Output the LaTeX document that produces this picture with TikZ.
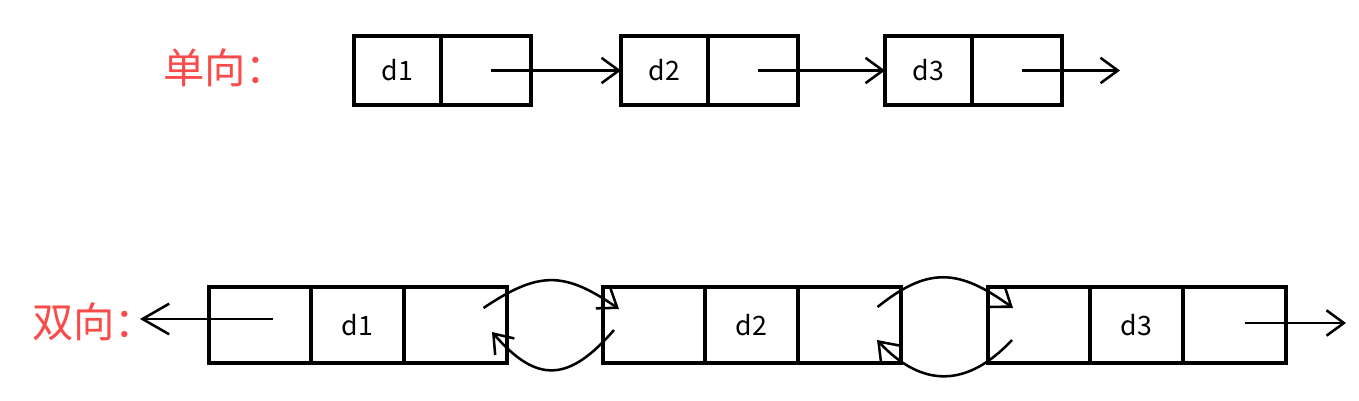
\documentclass[tikz,border=0pt]{standalone}
\usepackage{fontspec}
\setmainfont{Noto Sans CJK SC}
\usetikzlibrary{calc,arrows.meta,positioning}
\definecolor{labelColor}{RGB}{250,75,75}
\newcommand{\cellfont}{\fontsize{20}{24}\selectfont}
\newcommand{\labelfont}{\fontsize{31}{34}\selectfont}

\begin{document}
\begin{tikzpicture}[x=0.75pt, y=-0.75pt,
    cell/.style={draw, line width=2.4pt, outer sep=0pt, inner sep=0pt, font=\cellfont},
    upcell/.style={cell, minimum height=51.75pt},
    downcell/.style={cell, minimum height=57pt},
    tag/.style={font=\labelfont, text=labelColor, inner sep=0pt, anchor=west},
    arr/.style={-{Straight Barb[length=13pt, width=19pt]}, line width=1.9pt},
    bigarr/.style={-{Straight Barb[length=20pt, width=23pt]}, line width=1.9pt}
  ]
  \useasboundingbox (0,0) rectangle (1359,400);

  % singly linked
  \node[tag] (single) at (163,68) {单向：};
  \node[upcell, minimum width=65.25pt, anchor=west] (s1) at (354,70.5) {d1};
  \node[upcell, minimum width=67.5pt, right=0pt of s1] (s1p) {};
  \node[upcell, minimum width=65.25pt, anchor=west] (s2) at (621,70.5) {d2};
  \node[upcell, minimum width=67.5pt, right=0pt of s2] (s2p) {};
  \node[upcell, minimum width=65.25pt, anchor=west] (s3) at (885,70.5) {d3};
  \node[upcell, minimum width=67.5pt, right=0pt of s3] (s3p) {};

  \coordinate (s1out) at ($(s1p.center)+(5,0)$);
  \coordinate (s2out) at ($(s2p.center)+(5,0)$);
  \coordinate (s3out) at ($(s3p.center)+(5,0)$);
  \coordinate (s3end) at ($(s3p.east)+(58,0)$);
  \draw[arr] (s1out) -- (s2.west);
  \draw[arr] (s2out) -- (s3.west);
  \draw[arr] (s3out) -- (s3end);

  % doubly linked
  \node[tag] (double) at (32,322) {双向：};
  \node[downcell, minimum width=76.5pt, anchor=west] (b1p) at (209,325) {};
  \node[downcell, minimum width=69.75pt, right=0pt of b1p] (b1) {d1};
  \node[downcell, minimum width=77.25pt, right=0pt of b1] (b1n) {};
  \node[downcell, minimum width=76.5pt, anchor=west] (b2p) at (603,325) {};
  \node[downcell, minimum width=69.75pt, right=0pt of b2p] (b2) {d2};
  \node[downcell, minimum width=77.25pt, right=0pt of b2] (b2n) {};
  \node[downcell, minimum width=76.5pt, anchor=west] (b3p) at (988,325) {};
  \node[downcell, minimum width=69.75pt, right=0pt of b3p] (b3) {d3};
  \node[downcell, minimum width=77.25pt, right=0pt of b3] (b3n) {};

  \coordinate (b1out) at ($(b1p.center)+(13,-6)$);
  \coordinate (b1end) at ($(b1p.west)+(-69,-6)$);
  \coordinate (b3out) at ($(b3n.center)+(10,-2)$);
  \coordinate (b3end) at ($(b3n.east)+(60,-2)$);
  \draw[bigarr] (b1out) -- (b1end);
  \draw[arr] (b3out) -- (b3end);

  \coordinate (u1s) at ($(b1n.center)+(28,-17)$);
  \coordinate (u1e) at ($(b2p.west)+(16,-16)$);
  \coordinate (l1s) at ($(b2p.west)+(11,5)$);
  \coordinate (l1e) at ($(b1n.east)+(-15,7)$);
  \coordinate (u2s) at ($(b2n.center)+(28,-18)$);
  \coordinate (u2e) at ($(b3p.west)+(25,-17)$);
  \coordinate (l2s) at ($(b3p.west)+(24,15)$);
  \coordinate (l2e) at ($(b2n.east)+(-24,15)$);
  \draw[arr] (u1s) .. controls +(55,-37) and +(-55,-38) .. (u1e);
  \draw[arr] (l1s) .. controls +(-45,52) and +(45,52) .. (l1e);
  \draw[arr] (u2s) .. controls +(50,-40) and +(-55,-40) .. (u2e);
  \draw[arr] (l2s) .. controls +(-45,48) and +(45,48) .. (l2e);
\end{tikzpicture}
\end{document}
